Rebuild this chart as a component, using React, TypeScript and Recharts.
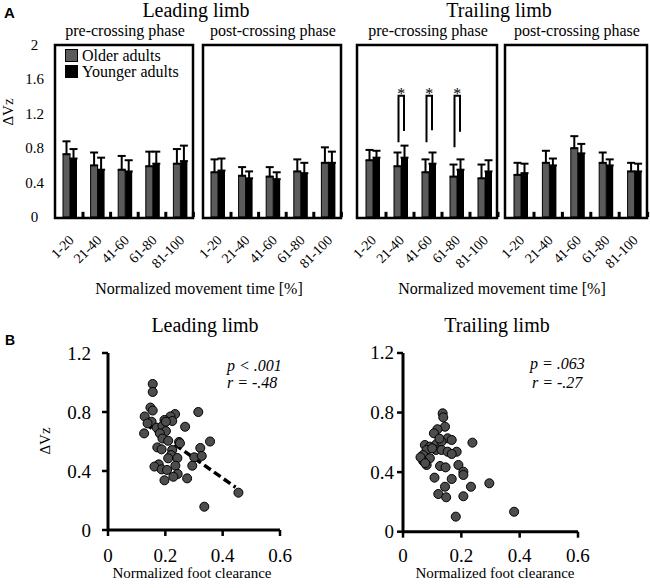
import React from 'react'
import {
  BarChart,
  Bar,
  XAxis,
  YAxis,
  ErrorBar,
  Legend,
  ScatterChart,
  Scatter,
  ZAxis,
  ReferenceLine,
} from 'recharts'

const SERIF = "'Liberation Serif', 'Times New Roman', Times, serif"
const SANS = "'Liberation Sans', Arial, sans-serif"
const GREY = '#5b5b5b'
const DOT = '#4d4d4d'

// --- panel A data ---
const periods = ['1-20', '21-40', '41-60', '61-80', '81-100']
const dvzTicks = [0, 0.4, 0.8, 1.2, 1.6, 2]

const leadPreOlder = [0.73, 0.6, 0.55, 0.59, 0.62]
const leadPreOlderSd = [0.15, 0.15, 0.16, 0.17, 0.17]
const leadPreYounger = [0.68, 0.55, 0.53, 0.62, 0.65]
const leadPreYoungerSd = [0.11, 0.14, 0.13, 0.14, 0.18]

const leadPostOlder = [0.52, 0.48, 0.47, 0.53, 0.63]
const leadPostOlderSd = [0.15, 0.1, 0.11, 0.14, 0.18]
const leadPostYounger = [0.54, 0.45, 0.44, 0.51, 0.63]
const leadPostYoungerSd = [0.14, 0.08, 0.08, 0.12, 0.13]

const trailPreOlder = [0.66, 0.59, 0.52, 0.47, 0.45]
const trailPreOlderSd = [0.12, 0.16, 0.15, 0.14, 0.16]
const trailPreYounger = [0.69, 0.69, 0.62, 0.55, 0.53]
const trailPreYoungerSd = [0.08, 0.14, 0.13, 0.12, 0.13]

const trailPostOlder = [0.49, 0.63, 0.8, 0.63, 0.53]
const trailPostOlderSd = [0.14, 0.14, 0.14, 0.12, 0.1]
const trailPostYounger = [0.51, 0.6, 0.74, 0.6, 0.53]
const trailPostYoungerSd = [0.11, 0.08, 0.11, 0.07, 0.09]

// little black marks sitting on the baseline after each pair
const baseMarks = [0.06, 0.06, 0.06, 0.06, 0.06]

// significance brackets (trailing limb, pre-crossing)
const sigOlderLeg = [null, 0.87, 0.87, 0.81, null]
const sigYoungerLeg = [null, 1.0, 1.01, 0.99, null]
const sigTop = 1.41

// --- panel B data ---
const clearanceTicks = [0, 0.2, 0.4, 0.6]
const dvzScatterTicks = [0, 0.4, 0.8, 1.2]

const leadClearance = [
  0.156, 0.156, 0.148, 0.128, 0.156, 0.315, 0.234, 0.218, 0.197, 0.224, 0.152,
  0.17, 0.19, 0.269, 0.126, 0.202, 0.181, 0.19, 0.21, 0.248, 0.356, 0.172, 0.187,
  0.224, 0.322, 0.22, 0.21, 0.242, 0.301, 0.327, 0.177, 0.162, 0.235, 0.294,
  0.187, 0.206, 0.243, 0.228, 0.276, 0.197, 0.455, 0.336, 0.138, 0.202, 0.251,
]
const leadDvz = [
  0.99, 0.936, 0.83, 0.77, 0.81, 0.8, 0.786, 0.77, 0.746, 0.739, 0.734, 0.694,
  0.705, 0.7, 0.655, 0.671, 0.655, 0.62, 0.605, 0.597, 0.6, 0.56, 0.547, 0.542,
  0.556, 0.508, 0.486, 0.488, 0.493, 0.502, 0.445, 0.43, 0.436, 0.436, 0.411,
  0.407, 0.38, 0.361, 0.35, 0.337, 0.253, 0.158, 0.723, 0.734, 0.588,
]
const leadTrendX = [0.13, 0.445]
const leadTrendY = [0.72, 0.29]

const trailClearance = [
  0.136, 0.138, 0.144, 0.118, 0.106, 0.153, 0.167, 0.238, 0.075, 0.092, 0.115,
  0.132, 0.081, 0.113, 0.132, 0.153, 0.184, 0.167, 0.069, 0.092, 0.069, 0.081,
  0.127, 0.146, 0.19, 0.207, 0.207, 0.108, 0.167, 0.296, 0.144, 0.233, 0.121,
  0.148, 0.207, 0.181, 0.381, 0.06, 0.076, 0.1, 0.125,
]
const trailDvz = [
  0.795, 0.768, 0.705, 0.688, 0.661, 0.627, 0.616, 0.598, 0.582, 0.571, 0.589,
  0.605, 0.549, 0.549, 0.549, 0.537, 0.537, 0.522, 0.515, 0.493, 0.475, 0.448,
  0.441, 0.432, 0.448, 0.403, 0.381, 0.363, 0.354, 0.325, 0.302, 0.302, 0.253,
  0.231, 0.238, 0.101, 0.134, 0.5, 0.46, 0.56, 0.625,
]

const FILLS: Record<string, string> = { older: GREY, younger: '#000' }

const buildRows = (older, olderSd, younger, youngerSd, withSig = false) =>
  periods.map((period, i) => ({
    period,
    older: older[i],
    olderErr: [0, olderSd[i]],
    younger: younger[i],
    youngerErr: [0, youngerSd[i]],
    mark: baseMarks[i],
    sigOlder: withSig ? sigOlderLeg[i] : null,
    sigYounger: withSig ? sigYoungerLeg[i] : null,
  }))

const PLOT_TOP = 45
const PLOT_H = 172
const SHIFT = 4.5

const AngledTick = (props: any) => {
  const { x, y, payload } = props
  const tx = x + 1
  const ty = y + 24
  return (
    <text
      x={tx}
      y={ty}
      transform={`rotate(-45 ${tx} ${ty})`}
      textAnchor="end"
      fontSize={14}
      fontFamily={SERIF}
      fill="#000"
    >
      {payload.value}
    </text>
  )
}

const LeftTick = (props: any) => {
  const { x, y, payload } = props
  return (
    <text x={x - 25.5} y={y} dy={5} textAnchor="middle" fontSize={15} fontFamily={SERIF} fill="#000">
      {payload.value}
    </text>
  )
}

const ScatterXTick = (props: any) => {
  const { x, y, payload } = props
  return (
    <text x={x} y={y} dy={13.5} textAnchor="middle" fontSize={19} fontFamily={SERIF} fill="#000">
      {payload.value}
    </text>
  )
}

const ScatterYTick = (props: any) => {
  const { x, y, payload } = props
  return (
    <text x={x} y={y} dy={6.5} textAnchor="end" fontSize={19} fontFamily={SERIF} fill="#000">
      {payload.value}
    </text>
  )
}

const MarkShape = (props: any) => {
  const { x, y, width, height } = props
  return <rect x={x + width - 2.5} y={y} width={3} height={height} fill="#000" />
}

// younger bar, plus the significance bracket when the row has one
const YoungerShape = (props: any) => {
  const { x, y, width, height, payload } = props
  const base = y + height
  const ppu = height / payload.younger
  const xl = x - width / 2 + 1
  const xr = x + width / 2 - 0.5
  const yTop = base - sigTop * ppu
  return (
    <g>
      <rect x={x} y={y} width={width} height={height} fill="#000" />
      {payload.sigOlder != null && (
        <g>
          <polyline
            points={`${xl},${base - payload.sigOlder * ppu} ${xl},${yTop} ${xr},${yTop} ${xr},${base - payload.sigYounger * ppu}`}
            fill="none"
            stroke="#000"
            strokeWidth={2}
          />
          <text x={(xl + xr) / 2} y={yTop + 3} textAnchor="middle" fontSize={16} fontFamily={SERIF} fill="#000">
            *
          </text>
        </g>
      )}
    </g>
  )
}

const LegendBox = (props: any) => {
  const items = (props.payload || []).filter((p: any) => p.type !== 'none')
  return (
    <div style={{ fontFamily: SERIF, fontSize: 16, color: '#000', lineHeight: '15px' }}>
      {items.map((p: any) => (
        <div key={p.dataKey} style={{ display: 'flex', alignItems: 'center', height: 15.5, whiteSpace: 'nowrap' }}>
          <span
            style={{
              display: 'inline-block',
              width: 13,
              height: 13,
              background: FILLS[p.dataKey],
              boxSizing: 'border-box',
              border: '1px solid #000',
              marginRight: 4,
            }}
          />
          <span>{p.value}</span>
        </div>
      ))}
    </div>
  )
}

function PhasePanel({ boxLeft, boxWidth, rows, showAxis = false, showLegend = false, sig = false }) {
  const yW = showAxis ? 55 : 0
  const mLeft = showAxis ? 0 : 25
  const left = boxLeft + SHIFT - yW - mLeft
  return (
    <div style={{ position: 'absolute', left, top: PLOT_TOP - 10 }}>
      <BarChart
        width={mLeft + yW + boxWidth + 5}
        height={10 + PLOT_H + 60}
        data={rows}
        margin={{ top: 10, right: 5, bottom: 0, left: mLeft }}
        barGap={0}
        barSize={7}
      >
        <XAxis
          dataKey="period"
          interval={0}
          axisLine={false}
          tickLine={false}
          tickSize={0}
          tickMargin={0}
          height={60}
          tick={<AngledTick />}
        />
        <YAxis
          domain={[0, 2]}
          ticks={dvzTicks}
          hide={!showAxis}
          width={yW}
          axisLine={false}
          tickLine={false}
          tickSize={0}
          tickMargin={0}
          tick={<LeftTick />}
        />
        {showLegend && (
          <Legend
            layout="vertical"
            align="center"
            verticalAlign="middle"
            wrapperStyle={{ left: 65 - left, top: 48 - (PLOT_TOP - 10), width: 'auto' }}
            content={<LegendBox />}
          />
        )}
        <Bar dataKey="older" name="Older adults" fill={GREY} stroke="#000" strokeWidth={1} isAnimationActive={false}>
          <ErrorBar dataKey="olderErr" direction="y" width={4} stroke="#000" strokeWidth={2} />
        </Bar>
        <Bar
          dataKey="younger"
          name="Younger adults"
          fill="#000"
          shape={sig ? <YoungerShape /> : undefined}
          isAnimationActive={false}
        >
          <ErrorBar dataKey="youngerErr" direction="y" width={4} stroke="#000" strokeWidth={2} />
        </Bar>
        <Bar dataKey="mark" fill="#000" legendType="none" shape={<MarkShape />} isAnimationActive={false} />
      </BarChart>
    </div>
  )
}

function ClearancePanel({ left, axisWidth, plotWidth, plotHeight, yTickMargin, xTickMargin, points, trend }) {
  return (
    <div style={{ position: 'absolute', left, top: 340 }}>
      <ScatterChart
        width={axisWidth + plotWidth + 20}
        height={13 + plotHeight + 50}
        margin={{ top: 13, right: 20, bottom: 0, left: 0 }}
      >
        <XAxis
          type="number"
          dataKey="x"
          domain={[0, 0.6]}
          ticks={clearanceTicks}
          height={50}
          axisLine={{ stroke: '#000', strokeWidth: 3 }}
          tickLine={{ stroke: '#000', strokeWidth: 2.5 }}
          tickSize={6}
          tickMargin={xTickMargin}
          tick={<ScatterXTick />}
        />
        <YAxis
          type="number"
          dataKey="y"
          domain={[0, 1.2]}
          ticks={dvzScatterTicks}
          width={axisWidth}
          axisLine={{ stroke: '#000', strokeWidth: 3 }}
          tickLine={{ stroke: '#000', strokeWidth: 2.5 }}
          tickSize={6}
          tickMargin={yTickMargin}
          tick={<ScatterYTick />}
        />
        <ZAxis range={[66, 66]} />
        <Scatter data={points} fill={DOT} stroke="#000" strokeWidth={1} isAnimationActive={false} />
        {trend && (
          <ReferenceLine
            segment={trend}
            stroke="#000"
            strokeWidth={3.5}
            strokeDasharray="8 4"
            ifOverflow="visible"
          />
        )}
      </ScatterChart>
    </div>
  )
}

const leadPoints = leadClearance.map((x, i) => ({ x, y: leadDvz[i] }))
const trailPoints = trailClearance.map((x, i) => ({ x, y: trailDvz[i] }))
const leadTrend = leadTrendX.map((x, i) => ({ x, y: leadTrendY[i] }))

const boxes = [
  { left: 55, width: 138, sub: 'pre-crossing phase' },
  { left: 203, width: 138, sub: 'post-crossing phase' },
  { left: 357, width: 140, sub: 'pre-crossing phase' },
  { left: 505, width: 142, sub: 'post-crossing phase' },
]

const txt = { fontFamily: SERIF, fill: '#000' }

export default function App() {
  return (
    <div
      style={{
        position: 'absolute',
        left: 0,
        top: 0,
        width: 650,
        height: 588,
        background: '#fff',
        overflow: 'hidden',
        fontFamily: SERIF,
      }}
    >
      <PhasePanel
        boxLeft={55}
        boxWidth={138}
        rows={buildRows(leadPreOlder, leadPreOlderSd, leadPreYounger, leadPreYoungerSd)}
        showAxis
        showLegend
      />
      <PhasePanel
        boxLeft={203}
        boxWidth={138}
        rows={buildRows(leadPostOlder, leadPostOlderSd, leadPostYounger, leadPostYoungerSd)}
      />
      <PhasePanel
        boxLeft={357}
        boxWidth={140}
        rows={buildRows(trailPreOlder, trailPreOlderSd, trailPreYounger, trailPreYoungerSd, true)}
        sig
      />
      <PhasePanel
        boxLeft={505}
        boxWidth={142}
        rows={buildRows(trailPostOlder, trailPostOlderSd, trailPostYounger, trailPostYoungerSd)}
      />

      <ClearancePanel
        left={0}
        axisWidth={108}
        plotWidth={172}
        plotHeight={177}
        yTickMargin={11}
        xTickMargin={12.5}
        points={leadPoints}
        trend={leadTrend}
      />
      <ClearancePanel
        left={300}
        axisWidth={103}
        plotWidth={175}
        plotHeight={178.7}
        yTickMargin={3}
        xTickMargin={11}
        points={trailPoints}
        trend={null}
      />

      {/* titles, frames and annotations */}
      <svg
        width={650}
        height={588}
        style={{ position: 'absolute', left: 0, top: 0, pointerEvents: 'none' }}
      >
        <text x={4} y={18} fontFamily={SANS} fontWeight="bold" fontSize={15} fill="#000">A</text>
        <text x={5} y={345} fontFamily={SANS} fontWeight="bold" fontSize={14} fill="#000">B</text>

        <text x={196} y={17} fontSize={20} textAnchor="middle" {...txt}>Leading limb</text>
        <text x={499} y={17} fontSize={20} textAnchor="middle" {...txt}>Trailing limb</text>

        {boxes.map((b) => (
          <g key={b.left}>
            <text x={b.left + b.width / 2 + 1} y={36} fontSize={16} textAnchor="middle" {...txt}>{b.sub}</text>
            <rect x={b.left} y={45} width={b.width} height={173} fill="none" stroke="#000" strokeWidth={2.5} />
          </g>
        ))}

        <text x={13} y={112} fontSize={15} textAnchor="middle" transform="rotate(-90 13 112)" {...txt}>ΔVz</text>
        <text x={199} y={294} fontSize={16} textAnchor="middle" {...txt}>Normalized movement time [%]</text>
        <text x={502} y={294} fontSize={16} textAnchor="middle" {...txt}>Normalized movement time [%]</text>

        <text x={205} y={332} fontSize={20} textAnchor="middle" {...txt}>Leading limb</text>
        <text x={497} y={332} fontSize={20} textAnchor="middle" {...txt}>Trailing limb</text>
        <text x={50} y={441} fontSize={15} textAnchor="middle" transform="rotate(-90 50 441)" {...txt}>ΔVz</text>

        <text x={227} y={371} fontSize={16} fontStyle="italic" {...txt}>p &lt; .001</text>
        <text x={227} y={388} fontSize={16} fontStyle="italic" {...txt}>r = -.48</text>
        <text x={530} y={369} fontSize={16} fontStyle="italic" {...txt}>p = .063</text>
        <text x={532} y={388} fontSize={16} fontStyle="italic" {...txt}>r = -.27</text>

        <text x={192} y={578} fontSize={15} textAnchor="middle" {...txt}>Normalized foot clearance</text>
        <text x={495} y={578} fontSize={15} textAnchor="middle" {...txt}>Normalized foot clearance</text>
      </svg>
    </div>
  )
}
